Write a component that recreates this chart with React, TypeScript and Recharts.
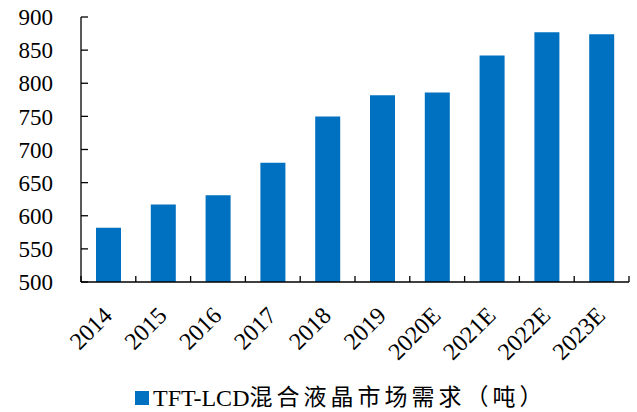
import { BarChart, Bar, XAxis, YAxis, Legend } from "recharts";

const years = ["2014", "2015", "2016", "2017", "2018", "2019", "2020E", "2021E", "2022E", "2023E"];
const demand = [582, 617, 631, 680, 750, 782, 786, 842, 877, 874];
const yTicks = [500, 550, 600, 650, 700, 750, 800, 850, 900];
const seriesLatin = "TFT-LCD";
const seriesCjk = "混合液晶市场需求（吨）";

const data = years.map((year, i) => ({ year, demand: demand[i] }));

const W = 637;
const H = 412;
const MARGIN = { top: 17, right: 8, bottom: 0, left: 0 };
const Y_AXIS_W = 81;
const BAND = (W - MARGIN.left - MARGIN.right - Y_AXIS_W) / years.length;

const FONT = "'Liberation Serif', 'Times New Roman', 'Noto Sans CJK SC', serif";
const BLUE = "#0070C0";

function YearTick(props: any) {
  const { x, y, payload, index } = props;
  return (
    <g>
      {index === 0 && (
        <line x1={x - BAND / 2} x2={x - BAND / 2} y1={y} y2={y - 6} stroke="#000" strokeWidth={1.3} />
      )}
      <line x1={x + BAND / 2} x2={x + BAND / 2} y1={y} y2={y - 6} stroke="#000" strokeWidth={1.3} />
      <g transform={`translate(${x + 5}, ${y + 35}) rotate(-45)`}>
        <text x={0} y={0} textAnchor="end" fontFamily={FONT} fontSize={24} fill="#000">
          {payload.value}
        </text>
      </g>
    </g>
  );
}

function LegendContent() {
  return (
    <div
      style={{
        display: "flex",
        alignItems: "center",
        height: 30,
        paddingLeft: 135,
        paddingTop: 2,
        boxSizing: "border-box",
        fontFamily: FONT,
        color: "#000",
        lineHeight: "26px",
      }}
    >
      <span style={{ display: "inline-block", width: 14, height: 14, background: BLUE, marginRight: 4 }} />
      <span style={{ fontSize: 24 }}>{seriesLatin}</span>
      <span style={{ fontSize: 23, letterSpacing: 4 }}>{seriesCjk}</span>
    </div>
  );
}

export default function App() {
  return (
    <div style={{ position: "absolute", left: 0, top: 0, width: W, height: H, background: "#fff" }}>
      <BarChart width={W} height={H} data={data} margin={MARGIN}>
        <XAxis
          dataKey="year"
          axisLine={{ stroke: "#000", strokeWidth: 1.3 }}
          tickLine={false}
          tickSize={0}
          tickMargin={0}
          interval={0}
          height={100}
          tick={<YearTick />}
        />
        <YAxis
          domain={[500, 900]}
          ticks={yTicks}
          interval={0}
          width={Y_AXIS_W}
          axisLine={{ stroke: "#000", strokeWidth: 1.3 }}
          tickLine={{ stroke: "#000", strokeWidth: 1.3 }}
          tickSize={-7}
          tickMargin={35}
          tick={{ fontFamily: FONT, fontSize: 23, fill: "#000" }}
        />
        <Legend verticalAlign="bottom" align="left" height={30} content={<LegendContent />} />
        <Bar dataKey="demand" name={seriesLatin + seriesCjk} fill={BLUE} barSize={25} isAnimationActive={false} />
      </BarChart>
    </div>
  );
}
